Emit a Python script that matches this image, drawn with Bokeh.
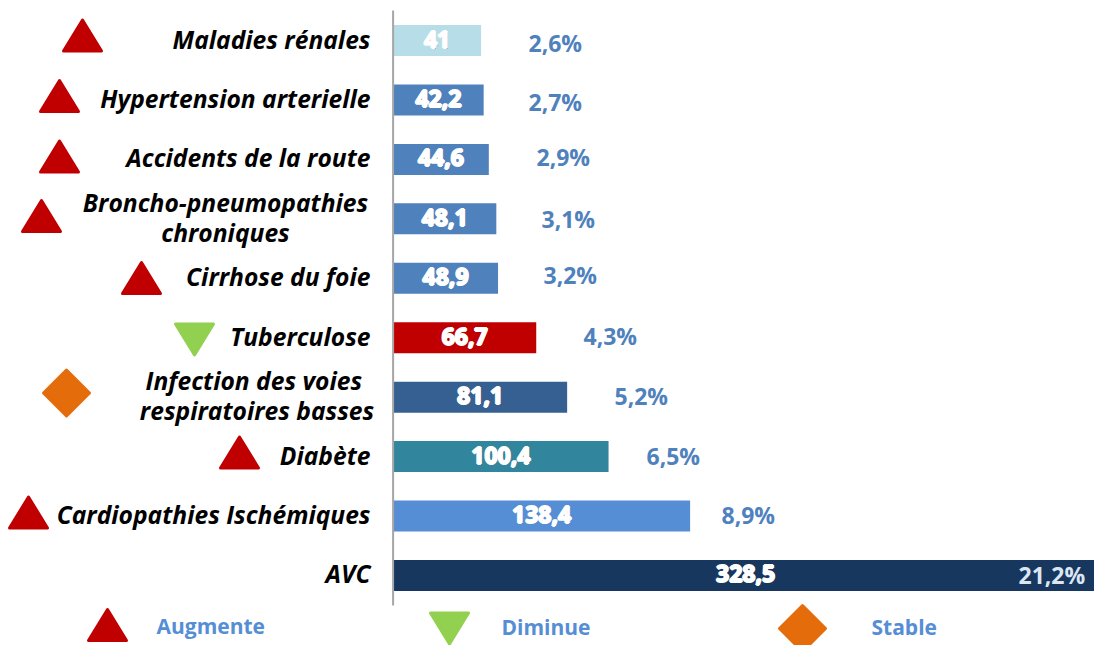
from bokeh.plotting import figure
from bokeh.models import ColumnDataSource, Range1d
from bokeh.embed import file_html
from bokeh.resources import INLINE
from bokeh.core.properties import value

# ---- data (top row first) ----
categories = ["Maladies rénales", "Hypertension arterielle", "Accidents de la route",
              "Broncho-pneumopathies\nchroniques", "Cirrhose du foie", "Tuberculose",
              "Infection des voies \nrespiratoires basses", "Diabète",
              "Cardiopathies Ischémiques", "AVC"]
values = [41, 42.2, 44.6, 48.1, 48.9, 66.7, 81.1, 100.4, 138.4, 328.5]
value_labels = ["41", "42,2", "44,6", "48,1", "48,9", "66,7", "81,1", "100,4", "138,4", "328,5"]
percent_labels = ["2,6%", "2,7%", "2,9%", "3,1%", "3,2%", "4,3%", "5,2%", "6,5%", "8,9%", "21,2%"]
trends = ["up", "up", "up", "up", "up", "down", "stable", "up", "up", None]
legend_labels = ["Augmente", "Diminue", "Stable"]
legend_trends = ["up", "down", "stable"]

# ---- style / layout ----
bar_colors = ["#B7DDE8", "#4F81BD", "#4F81BD", "#4F81BD", "#4F81BD",
              "#C00000", "#366092", "#31859C", "#558ED5", "#17375E"]
trend_colors = {"up": "#C00000", "down": "#92D050", "stable": "#E46C0A"}
W, H = 1094, 645
X0, PX_PER_UNIT = 392.6, 2.146         # page pixel of value 0, pixels per unit
ROW0, ROW_STEP = 40.0, 59.44           # page pixel of first row, row spacing
BAR_PX = 31
LABEL_RIGHT = 370
TEXT_UP = 1.5
marker_px = [82, 59, 59, 41, 141, 194, 66, 239, 28, None]
marker_py = [35, 95.5, 156, 215.5, 277.5, 339, 392.5, 452, 512, None]
percent_px = [528, 528, 536, 541, 543, 583, 614, 646, 721, 1018]
percent_py = [44, 103, 158, 220, 276, 337, 397, 457, 516, 576]
legend_marker_px = [107, 449, 802]
legend_marker_py = [624.5, 628, 628]
legend_text_px = [156, 501, 871]
legend_text_py = [626, 627, 627]
FONT = "Open Sans"
LABEL_SIZE = "24.6px"

def dx(px):
    return (px - X0) / PX_PER_UNIT

p = figure(width=W, height=H, output_backend="svg", toolbar_location=None,
           x_range=Range1d(dx(0), dx(1094)), y_range=Range1d(645, 0),
           min_border=0, outline_line_color=None)
p.xaxis.visible = False
p.yaxis.visible = False
p.grid.visible = False
p.background_fill_color = "#FFFFFF"
p.border_fill_color = "#FFFFFF"

rows = [ROW0 + i * ROW_STEP for i in range(len(values))]

# bars
p.hbar(y=rows, left=0, right=values, height=BAR_PX, fill_color=bar_colors, line_color=None)

# vertical axis line
p.segment(x0=[0], x1=[0], y0=[10], y1=[605], line_color="#A6A6A6", line_width=2)

# category labels
for i, cat in enumerate(categories):
    lines = cat.split("\n")
    if len(lines) == 1:
        p.text([dx(LABEL_RIGHT)], [rows[i] - TEXT_UP], text=[cat], text_align="right", text_baseline="middle",
               text_font=value(FONT), text_font_size=LABEL_SIZE, text_font_style="bold italic",
               text_color="#000000")
    else:
        centre = {3: 225, 6: 256.5}[i]
        for j, ln in enumerate(lines):
            p.text([dx(centre)], [rows[i] + (j - 0.5) * 30 - TEXT_UP], text=[ln], text_align="center",
                   text_baseline="middle", text_font=value(FONT), text_font_size=LABEL_SIZE,
                   text_font_style="bold italic", text_color="#000000")

# value labels: halo + body
xs = [v / 2 for v in values]
src = ColumnDataSource(dict(x=xs, y=[r - TEXT_UP for r in rows], t=value_labels))
p.text("x", "y", text="t", source=src, text_align="center", text_baseline="middle",
       text_font=value(FONT), text_font_size="23px", text_font_style="bold", text_color="#5A5A5A",
       text_alpha=0.45, x_offset=1, y_offset=1)
for off in [(-1, 0), (1, 0), (0, -1), (0, 1), (0, 0)]:
    p.text("x", "y", text="t", source=src, text_align="center", text_baseline="middle",
           text_font=value(FONT), text_font_size="23px", text_font_style="bold", text_color="#FFFFFF",
           x_offset=off[0], y_offset=off[1])

# percent labels
pc = ["#DCE6F2" if i == 9 else "#4F81BD" for i in range(10)]
p.text([dx(x) for x in percent_px], [y - TEXT_UP for y in percent_py], text=percent_labels, text_align="left",
       text_baseline="middle", text_font=value(FONT), text_font_size="23px", text_font_style="bold", text_color=pc)

# trend markers
def shape(kind, cx, cy):
    if kind == "up":
        return [dx(cx - 19), dx(cx), dx(cx + 19)], [cy + 15.5, cy - 15.5, cy + 15.5]
    if kind == "down":
        return [dx(cx - 19), dx(cx), dx(cx + 19)], [cy - 15.5, cy + 15.5, cy - 15.5]
    return [dx(cx - 23), dx(cx), dx(cx + 23), dx(cx)], [cy, cy - 23, cy, cy + 23]

for t, cx, cy in zip(trends + legend_trends, marker_px + legend_marker_px, marker_py + legend_marker_py):
    if t is None:
        continue
    sx, sy = shape(t, cx, cy)
    p.patch(sx, sy, fill_color=trend_colors[t], line_color=trend_colors[t], line_width=3, line_join="round")

# legend labels
p.text([dx(x) for x in legend_text_px], [y - 1 for y in legend_text_py], text=legend_labels, text_align="left",
       text_baseline="middle", text_font=value(FONT), text_font_size="21px", text_font_style="bold",
       text_color="#558ED5")

open("out.html", "w").write(file_html(p, INLINE))
